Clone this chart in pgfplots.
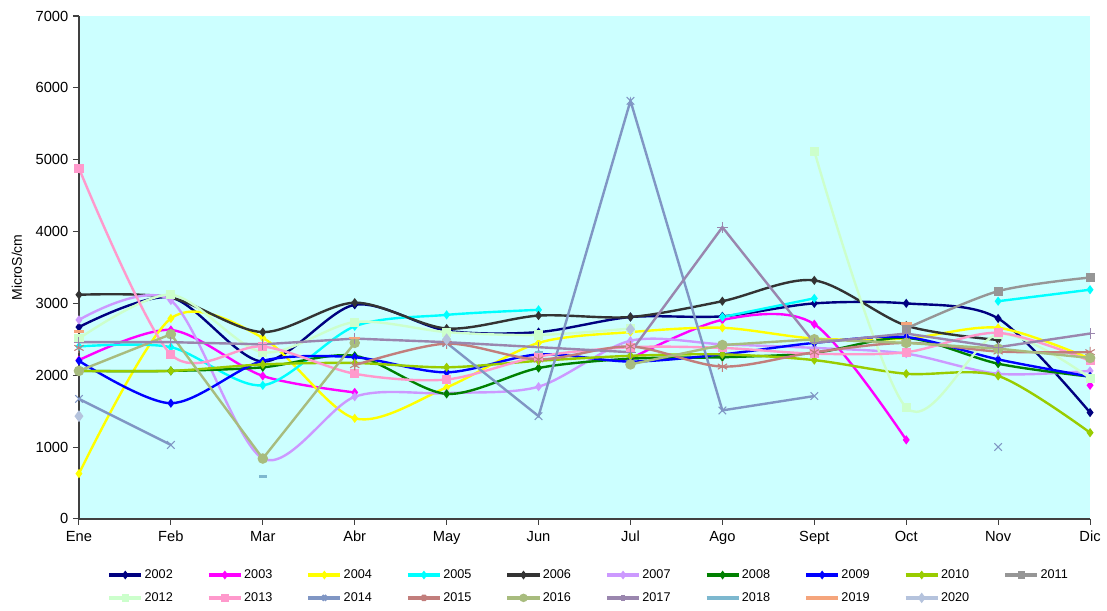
\documentclass[border=0pt]{standalone}
\usepackage{fontspec}
\setmainfont{Liberation Sans}
\usepackage{pgfplots}
\usepackage{pgfplotstable}
\pgfplotsset{compat=1.18}

\definecolor{c2002}{HTML}{000080}
\definecolor{c2003}{HTML}{FF00FF}
\definecolor{c2004}{HTML}{FFFF00}
\definecolor{c2005}{HTML}{00FFFF}
\definecolor{c2006}{HTML}{333333}
\definecolor{c2007}{HTML}{CC99FF}
\definecolor{c2008}{HTML}{008000}
\definecolor{c2009}{HTML}{0000FF}
\definecolor{c2010}{HTML}{99CC00}
\definecolor{c2011}{HTML}{969696}
\definecolor{c2012}{HTML}{CCFFCC}
\definecolor{c2013}{HTML}{FF99CC}
\definecolor{c2014}{HTML}{8096C4}
\definecolor{c2015}{HTML}{C27E7C}
\definecolor{c2016}{HTML}{A8BC7E}
\definecolor{c2017}{HTML}{9A86AE}
\definecolor{c2018}{HTML}{7DB8CF}
\definecolor{c2019}{HTML}{F5A57C}
\definecolor{c2020}{HTML}{B5C3DD}
\definecolor{plotbg}{HTML}{CCFFFF}
\definecolor{axgray}{HTML}{404040}

% monthly values, MicroS/cm; nan = no reading
\pgfplotstableread{
x  y2002 y2003 y2004 y2005 y2006 y2007 y2008 y2009 y2010 y2011 y2012 y2013 y2014 y2015 y2016 y2017 y2018 y2019 y2020
0  2670  2210  630   2400  3120  2770  2060  2200  2060  nan   2510  4880  1670  2380  2060  2460  nan   2610  1430
1  3080  2630  2790  2390  3080  3040  2060  1610  2060  nan   3120  2290  1030  nan   2570  2460  nan   nan   nan
2  2190  1990  2520  1860  2600  840   2110  2200  2150  nan   2320  2400  nan   nan   840   2430  590   nan   nan
3  2980  1760  1400  2680  3010  1700  2270  2250  2170  nan   2740  2020  nan   2140  2450  2510  nan   2520  nan
4  2620  nan   1830  2840  2650  1750  1740  2040  2110  nan   2600  1940  2450  2440  nan   2460  nan   nan   2500
5  2600  nan   2450  2910  2830  1840  2100  2290  2200  nan   2560  2260  1430  2220  nan   2390  2320  nan   nan
6  2810  2230  2600  nan   2810  2480  2230  2190  2270  nan   2650  2390  5820  2400  2150  2320  nan   nan   2640
7  2820  2770  2660  2810  3030  2430  2250  2290  2290  nan   nan   2380  1510  2120  2420  4060  nan   nan   nan
8  3000  2710  2510  3070  3320  2380  2310  2450  2210  nan   5120  2300  1710  2320  2500  2450  nan   nan   nan
9  3000  1100  2510  nan   2690  2300  2520  2530  2020  2650  1550  2320  nan   2450  2450  2580  nan   2720  nan
10 2790  nan   2660  3030  2490  2020  2160  2220  1990  3170  2570  2590  1000  2330  2370  2390  nan   nan   nan
11 1480  1860  2230  3190  nan   2060  1980  1980  1200  3360  1960  2200  nan   2320  2240  2580  nan   nan   nan
}\data

\begin{document}
\begin{tikzpicture}
\useasboundingbox (-59.2pt,-68.4pt) rectangle (770.7pt,389pt);
\begin{axis}[
    at={(0,0)}, anchor=south west,
    scale only axis,
    width=758pt, height=377pt,
    xmin=0, xmax=11, ymin=0, ymax=7000,
    axis background/.style={fill=plotbg},
    axis lines=left,
    axis line style={-, axgray, line width=1.3pt},
    every tick/.style={axgray, line width=0.8pt},
    tick align=outside,
    major tick length=4.5pt,
    xtick={0,...,11},
    xticklabels={Ene,Feb,Mar,Abr,May,Jun,Jul,Ago,Sept,Oct,Nov,Dic},
    ytick={0,1000,...,7000},
    /pgf/number format/set thousands separator={},
    /pgf/number format/assume math mode=true,
    tick label style={font=\fontsize{11}{13}\selectfont},
    xticklabel style={yshift=-1pt},
    ylabel={MicroS/cm},
    ylabel style={font=\fontsize{10.5}{12}\selectfont,
        at={(axis description cs:-0.0615,0.5)}, anchor=center},
    unbounded coords=jump,
    every axis plot/.append style={line width=1.8pt},
    legend columns=10,
    legend style={draw=none, fill=none, inner sep=0pt,
        at={(0.028,-0.095)}, anchor=north west,
        font=\fontsize{9.5}{11}\selectfont, row sep=5pt,
        nodes={inner xsep=1.2pt},
        /tikz/every even column/.append style={column sep=24.5pt}},
    legend image code/.code={\draw[line width=2.6pt, mark repeat=2,mark phase=2,
        mark options={scale=0.6}]
        plot coordinates {(0pt,0pt) (12pt,0pt) (24pt,0pt)};},
]
\addplot[c2002, smooth, mark=diamond*, mark size=2pt] table[x=x,y=y2002]{\data};
\addlegendentry{2002}
\addplot[c2003, smooth, mark=diamond*, mark size=2pt] table[x=x,y=y2003]{\data};
\addlegendentry{2003}
\addplot[c2004, smooth, mark=diamond*, mark size=2pt] table[x=x,y=y2004]{\data};
\addlegendentry{2004}
\addplot[c2005, smooth, mark=diamond*, mark size=2pt] table[x=x,y=y2005]{\data};
\addlegendentry{2005}
\addplot[c2006, smooth, mark=diamond*, mark size=2pt] table[x=x,y=y2006]{\data};
\addlegendentry{2006}
\addplot[c2007, smooth, mark=diamond*, mark size=2pt] table[x=x,y=y2007]{\data};
\addlegendentry{2007}
\addplot[c2008, smooth, mark=diamond*, mark size=2pt] table[x=x,y=y2008]{\data};
\addlegendentry{2008}
\addplot[c2009, smooth, mark=diamond*, mark size=2pt] table[x=x,y=y2009]{\data};
\addlegendentry{2009}
\addplot[c2010, smooth, mark=diamond*, mark size=2pt] table[x=x,y=y2010]{\data};
\addlegendentry{2010}
\addplot[c2011, smooth, mark=square*, mark size=2.5pt] table[x=x,y=y2011]{\data};
\addlegendentry{2011}
\addplot[c2012, smooth, mark=square*, mark size=2.5pt] table[x=x,y=y2012]{\data};
\addlegendentry{2012}
\addplot[c2013, smooth, mark=square*, mark size=2.5pt] table[x=x,y=y2013]{\data};
\addlegendentry{2013}
\addplot[c2014, mark=x, mark size=4pt, mark options={line width=0.8pt}] table[x=x,y=y2014]{\data};
\addlegendentry{2014}
\addplot[c2015, smooth, mark=asterisk, mark size=4pt, mark options={line width=0.8pt}] table[x=x,y=y2015]{\data};
\addlegendentry{2015}
\addplot[c2016, mark=*, mark size=3pt] table[x=x,y=y2016]{\data};
\addlegendentry{2016}
\addplot[c2017, mark=+, mark size=4pt, mark options={line width=0.8pt}] table[x=x,y=y2017]{\data};
\addlegendentry{2017}
\addplot[c2018, mark=-, mark size=3pt] table[x=x,y=y2018]{\data};
\addlegendentry{2018}
\addplot[c2019, mark=-, mark size=4pt] table[x=x,y=y2019]{\data};
\addlegendentry{2019}
\addplot[c2020, mark=diamond*, mark size=3pt] table[x=x,y=y2020]{\data};
\addlegendentry{2020}
\end{axis}
\end{tikzpicture}
\end{document}
